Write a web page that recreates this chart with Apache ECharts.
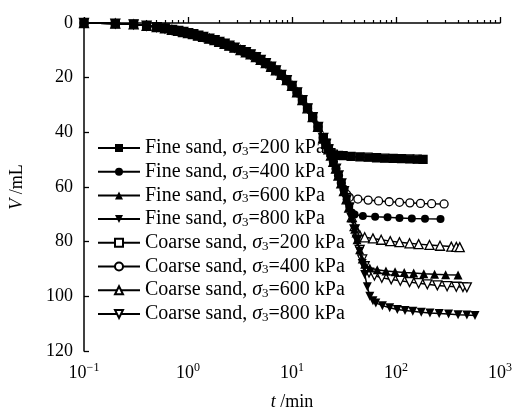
<!DOCTYPE html>
<html><head><meta charset="utf-8">
<script src="https://cdn.jsdelivr.net/npm/echarts@6/dist/echarts.min.js"></script>
<style>html,body{margin:0;padding:0;background:#fff}#c{width:517px;height:410px}</style>
</head><body><div id="c"></div>
<script>
const seriesNames = [
  'Fine sand, σ3=200 kPa', 'Fine sand, σ3=400 kPa', 'Fine sand, σ3=600 kPa', 'Fine sand, σ3=800 kPa',
  'Coarse sand, σ3=200 kPa', 'Coarse sand, σ3=400 kPa', 'Coarse sand, σ3=600 kPa', 'Coarse sand, σ3=800 kPa'
];
const xTickValues = [0.1, 1, 10, 100, 1000];
const xMinorTicks = [0.2,0.3,0.4,0.5,0.6,0.7,0.8,0.9, 2,3,4,5,6,7,8,9, 20,30,40,50,60,70,80,90, 200,300,400,500,600,700,800,900];
const yTicks = [0, 20, 40, 60, 80, 100, 120];

// shared early part of all curves (t in min, V in mL)
const earlyCurve = [[0.1,0],[0.2,0.2],[0.3,0.5],[0.4,1.0],[0.5,1.5],[0.6,2.0],[0.7,2.5],[0.8,2.9],[0.9,3.3],[1,3.7],[1.12,4.1],[1.25,4.6],[1.4,5.1],[1.6,5.7],[1.8,6.3],[2,6.9],[2.25,7.6],[2.5,8.3],[2.8,9.0],[3.2,9.9],[3.6,10.7],[4,11.5],[4.5,12.5],[5,13.5],[5.6,14.7],[6.3,16.0],[7,17.3],[7.9,19.0],[8.9,20.9],[10,23.0],[11.2,25.4],[12.6,28.2],[14.1,31.2],[15.8,34.4],[17.8,38.0],[20,42.0]];

const fine200Tail = [[21.2,44.2],[22.4,46.2],[23.7,47.6],[25,48.2],[28,48.5],[31,48.6],[37,48.8],[45,49.0],[54,49.2],[65,49.3],[78,49.5],[94,49.6],[113,49.7],[136,49.8],[160,49.9],[182,50.0]];
const fine400Tail = [[21.2,44.2],[22.4,46.2],[23.7,48.5],[25,50.8],[26.5,53.3],[28,55.8],[29.8,58.7],[31.6,61.5],[33.5,64.5],[35.5,67.2],[37.6,69.3],[40,70.1],[48,70.6],[63,70.9],[83,71.1],[108,71.3],[142,71.5],[190,71.6],[268,71.7]];
const fine600Tail = [[21.2,44.2],[22.4,46.2],[23.7,48.5],[25,50.8],[26.5,53.3],[28,55.8],[29.8,58.7],[31.6,61.5],[33.5,64.5],[35.5,67.5],[37.6,71.3],[40,75.5],[42.2,79.3],[44.7,83.0],[47.3,86.3],[50,88.3],[56,89.6],[66,90.3],[80,90.7],[98,91.0],[120,91.3],[148,91.5],[185,91.7],[235,91.9],[300,92.1],[395,92.2]];
const fine800Tail = [[21.2,44.2],[22.4,46.2],[23.7,48.5],[25,50.8],[26.5,53.3],[28,55.8],[29.8,58.7],[31.6,61.5],[33.5,64.5],[35.5,67.5],[37.6,71.3],[40,75.5],[42.2,79.5],[44.7,83.5],[47.3,88.0],[50,92.0],[53,96.5],[56,100.0],[60,101.6],[64,102.4],[74,103.4],[87,104.2],[103,104.8],[122,105.2],[145,105.5],[175,105.8],[212,106.1],[260,106.3],[320,106.5],[395,106.7],[480,106.8],[575,107.0]];
const coarse200Tail = [[21.2,44.0],[22.4,46.0],[23.7,47.4],[25,48.0],[28,48.4],[31,48.5],[37,48.8],[45,49.0],[54,49.1],[65,49.3],[78,49.4],[94,49.5],[113,49.6],[136,49.7],[160,49.8],[182,49.9]];
const coarse400Tail = [[21.2,44.2],[22.4,46.2],[23.7,48.5],[25,50.8],[26.5,53.3],[28,55.8],[29.8,58.5],[31.6,60.8],[33.5,62.7],[35.5,63.8],[43,64.4],[54,64.8],[68,65.1],[86,65.4],[108,65.6],[136,65.8],[172,66.0],[220,66.1],[290,66.2]];
const coarse600Tail = [[21.2,44.2],[22.4,46.2],[23.7,48.5],[25,50.8],[26.5,53.3],[28,55.8],[29.8,58.7],[31.6,61.5],[33.5,64.5],[35.5,67.5],[37.6,71.0],[40,74.3],[42.2,76.6],[45,77.8],[50,78.4],[60,78.8],[72,79.3],[88,79.8],[108,80.2],[135,80.6],[165,80.9],[210,81.2],[265,81.5],[340,81.8],[380,81.9],[410,82.0]];
const coarse800Tail = [[21.2,44.2],[22.4,46.2],[23.7,48.5],[25,50.8],[26.5,53.3],[28,55.8],[29.8,58.7],[31.6,61.5],[33.5,64.5],[35.5,67.5],[37.6,71.3],[40,75.5],[42.2,79.3],[44.7,83.0],[47.3,86.5],[50,89.0],[55,91.3],[62,92.4],[73,93.2],[90,93.8],[110,94.3],[135,94.8],[165,95.2],[200,95.6],[250,96.0],[310,96.3],[380,96.5],[440,96.6],[480,96.7]];

const FONT = 'Liberation Serif';
const tails = [fine200Tail, fine400Tail, fine600Tail, fine800Tail, coarse200Tail, coarse400Tail, coarse600Tail, coarse800Tail];
const symbols = ['rect','circle','triangle','triangle','rect','circle','triangle','triangle'];
const rotates = [0,0,0,180,0,0,0,180];
const filled = [true,true,true,true,false,false,false,false];
const sizes = [8,8,9,9,8,8,9,9];
const zs = [3,3,3,3,1,2,2,2];

const series = tails.map((tail, i) => ({
  name: seriesNames[i],
  type: 'line',
  data: earlyCurve.concat(tail),
  xAxisIndex: 0,
  yAxisIndex: 0,
  symbol: symbols[i],
  symbolRotate: rotates[i],
  symbolSize: sizes[i],
  showAllSymbol: true,
  clip: false,
  z: zs[i],
  lineStyle: { color: '#000', width: 1.5 },
  itemStyle: { color: filled[i] ? '#000' : '#fff', borderColor: '#000', borderWidth: filled[i] ? 0 : 1.3 },
  emphasis: { disabled: true },
  animation: false
}));

function supLabel(v) {
  const e = Math.round(Math.log10(v));
  return '{b|10}{s|' + (e < 0 ? '−' + (-e) : e) + '}';
}

const gridBox = { left: 84, right: 17, top: 23, bottom: 59, containLabel: false, outerBoundsMode: 'none' };
const chart = echarts.init(document.getElementById('c'));
chart.setOption({
  backgroundColor: '#fff',
  animation: false,
  textStyle: { fontFamily: FONT, color: '#000' },
  grid: [Object.assign({}, gridBox), Object.assign({}, gridBox)],
  legend: {
    orient: 'vertical', left: 97, top: 138, padding: 0,
    itemWidth: 42, itemHeight: 10, itemGap: 3.7,
    data: seriesNames,
    selectedMode: false,
    formatter: n => n.replace('σ3', '{i|σ}{s|3}'),
    textStyle: {
      fontFamily: FONT, fontSize: 20, color: '#000', lineHeight: 20,
      rich: {
        i: { fontFamily: FONT, fontSize: 20, fontStyle: 'italic', color: '#000', lineHeight: 20 },
        s: { fontFamily: FONT, fontSize: 13, color: '#000', verticalAlign: 'bottom', lineHeight: 13 }
      }
    }
  },
  xAxis: [{
    gridIndex: 0,
    type: 'log', logBase: 10, min: 0.1, max: 1000,
    name: '{i|t} /min', nameLocation: 'middle', nameGap: 42,
    nameTextStyle: { fontFamily: FONT, fontSize: 18, color: '#000',
      rich: { i: { fontFamily: FONT, fontSize: 18, fontStyle: 'italic', color: '#000' } } },
    axisLine: { lineStyle: { color: '#000', width: 1.5 } },
    axisTick: { inside: true, length: 6, lineStyle: { color: '#000', width: 1.3 }, customValues: xTickValues },
    axisLabel: {
      customValues: xTickValues,
      margin: 11, formatter: supLabel,
      rich: {
        b: { fontFamily: FONT, fontSize: 18, color: '#000', lineHeight: 22 },
        s: { fontFamily: FONT, fontSize: 12, color: '#000', verticalAlign: 'top', lineHeight: 12 }
      }
    },
    splitLine: { show: false }
  }, {
    gridIndex: 1,
    type: 'log', logBase: 10, min: 0.1, max: 1000, position: 'bottom',
    axisLine: { show: false },
    axisTick: { show: true, inside: true, length: 3, lineStyle: { color: '#000', width: 1.2 }, customValues: xMinorTicks },
    axisLabel: { show: false },
    splitLine: { show: false }
  }],
  yAxis: [{
    gridIndex: 0,
    type: 'value', inverse: true, min: 0, max: 120, interval: 20,
    name: '{i|V} /mL', nameLocation: 'middle', nameGap: 58, nameRotate: 90,
    nameTextStyle: { fontFamily: FONT, fontSize: 18, color: '#000',
      rich: { i: { fontFamily: FONT, fontSize: 18, fontStyle: 'italic', color: '#000' } } },
    axisLine: { show: true, lineStyle: { color: '#000', width: 1.5 } },
    axisTick: { show: true, inside: true, length: 5, lineStyle: { color: '#000', width: 1.3 } },
    axisLabel: { margin: 11, fontFamily: FONT, fontSize: 18, color: '#000',
      formatter: v => (yTicks.indexOf(v) >= 0 ? String(v) : '') },
    splitLine: { show: false }
  }, {
    gridIndex: 1, type: 'value', inverse: true, min: 0, max: 120, show: false
  }],
  series: series
});
</script></body></html>
